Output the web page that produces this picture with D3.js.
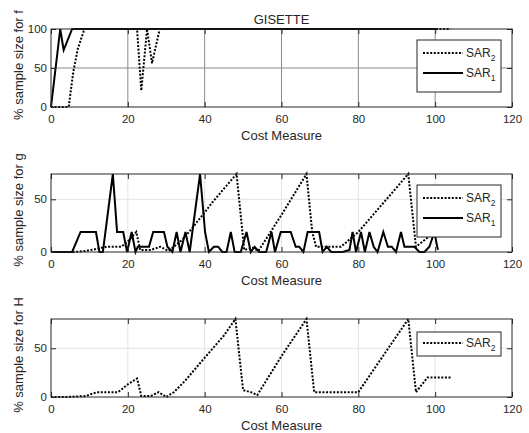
<!DOCTYPE html>
<html>
<head>
<meta charset="utf-8">
<script src="https://cdnjs.cloudflare.com/ajax/libs/d3/7.8.5/d3.min.js"></script>
<style>
body { margin: 0; background: #fff; }
text { font-family: "Liberation Sans", Arial, sans-serif; fill: #262626; }
</style>
</head>
<body>
<div id="chart"></div>
<script>
// x ticks shared by all three panels
var xTicks = [0, 20, 40, 60, 80, 100, 120];

// panel f
var fSar1 = [[0,0],[2.4,100],[3.3,73],[5.5,100],[100.7,100]];
var fSar2 = [[0,0],[4.6,0],[5.8,45],[7,75],[8.5,97],[9,100],[22.4,100],[23.5,21],
             [25,100],[26.3,56],[28.3,100],[104,100]];

// panel g
var gSar1 = [[0,0],[5.5,0],[7.7,19],[11.7,19],[12.6,0],[13.5,0],[16.1,74],[17.2,19],
             [18.8,19],[19.8,0],[21,19],[22,0],[22.6,5],[25.5,5],[26.6,19],[29.4,19],
             [30.3,5],[31.6,0],[32.7,19],[33.7,0],[35,19],[36.1,0],[38.8,74],[40.1,19],
             [41.1,0],[42.4,5],[43.5,5],[44.6,0],[45.7,0],[46.8,19],[47.8,0],[49.4,0],
             [50.9,19],[52,0],[53,5],[54.2,0],[56,0],[57.4,19],[58.3,0],[59.8,19],
             [62.4,19],[63.7,5],[64.6,5],[65.7,0],[66.8,19],[69.8,19],[70.7,0],[71.8,5],
             [72.9,0],[75.9,0],[77.7,2],[78.5,19],[79.4,0],[80.7,19],[81.7,0],[82.9,19],
             [84,5],[85,0],[86.5,19],[87.7,5],[88.7,5],[89.8,0],[91.1,19],[92,5],
             [94.6,5],[95.9,0],[97.2,0],[98.5,5],[99.8,19],[100.7,2]];
var gSar2 = [[0,0],[6,0],[9,1],[12,3],[14.5,5],[18.3,5],[20,10],[22.2,19],[23.2,2],
             [26,2],[28.5,5],[30.5,1],[32,5],[34,11],[36.6,22],[39,33],[42,47],[45,60],
             [48.3,74],[50.3,2],[52.5,4],[54,1],[60.3,37],[66.5,74],[68,19],[69,5],
             [75.5,5],[80,19],[93,74],[95,5],[98.5,15],[100,19],[104,19]];

// panel H
var hSar2 = [[0,0],[4,0],[9,1],[12,5],[17.5,5],[20,13],[22.4,19],[23.5,1],[26,1],
             [28,5],[30,0],[32,5],[35,17],[38,31],[40.6,43],[45,63],[48,80],[50,7],
             [52,5],[53.7,2],[60,42],[66.5,80],[68.5,5],[80,5],[93,80],[95,5],
             [98,20],[104,20]];

var W = 529, H = 433;
var svg = d3.select("#chart").append("svg")
    .attr("width", W)
    .attr("height", H);

var lineFn = function(x, y) {
  return d3.line().x(function(d) { return x(d[0]); }).y(function(d) { return y(d[1]); });
};

function drawPanel(p) {
  var x = d3.scaleLinear().domain([0, 120]).range([51, 512]);
  var y = d3.scaleLinear().domain([0, p.ymax]).range([p.bottom, p.top]);
  var g = svg.append("g");

  // grid
  g.selectAll(".gx").data(xTicks.slice(1, -1)).enter().append("line")
      .attr("x1", function(d) { return x(d); }).attr("x2", function(d) { return x(d); })
      .attr("y1", p.top).attr("y2", p.bottom)
      .attr("stroke", p.grid).attr("stroke-width", 1);
  g.selectAll(".gy").data(p.yTicks.filter(function(d) { return d > 0 && d < p.ymax; })).enter().append("line")
      .attr("x1", 51).attr("x2", 512)
      .attr("y1", function(d) { return y(d); }).attr("y2", function(d) { return y(d); })
      .attr("stroke", p.grid).attr("stroke-width", 1);

  // data lines
  p.series.forEach(function(s) {
    g.append("path")
        .attr("d", lineFn(x, y)(s.data))
        .attr("fill", "none")
        .attr("stroke", "#000")
        .attr("stroke-width", 2)
        .attr("stroke-dasharray", s.dotted ? "2,1.6" : null);
  });

  // axes, ticks inward on all four sides
  g.append("g").attr("transform", "translate(0," + p.bottom + ")")
      .call(d3.axisBottom(x).tickValues(xTicks).tickSizeInner(-5).tickSizeOuter(0).tickPadding(8));
  g.append("g").attr("transform", "translate(0," + p.top + ")")
      .call(d3.axisTop(x).tickValues(xTicks).tickSizeInner(-5).tickSizeOuter(0).tickFormat(""));
  g.append("g").attr("transform", "translate(51,0)")
      .call(d3.axisLeft(y).tickValues(p.yTicks).tickSizeInner(-5).tickSizeOuter(0).tickPadding(4));
  g.append("g").attr("transform", "translate(512,0)")
      .call(d3.axisRight(y).tickValues(p.yTicks).tickSizeInner(-5).tickSizeOuter(0).tickFormat(""));
  g.selectAll(".domain").remove();
  g.selectAll(".tick line").attr("stroke", "#262626");
  g.selectAll(".tick text").attr("font-size", 11.5).attr("fill", "#262626")
      .attr("font-family", "Liberation Sans, Arial, sans-serif");
  g.append("rect")
      .attr("x", 51).attr("y", p.top).attr("width", 461).attr("height", p.bottom - p.top)
      .attr("fill", "none").attr("stroke", "#262626").attr("stroke-width", 1);

  g.append("text")
      .attr("x", 281.5).attr("y", p.bottom + 33)
      .attr("text-anchor", "middle").attr("font-size", 13)
      .text("Cost Measure");
  g.append("text")
      .attr("transform", "translate(23," + ((p.top + p.bottom) / 2 - 3) + ") rotate(-90)")
      .attr("text-anchor", "middle").attr("font-size", 13)
      .text(p.ylabel);

  // legend
  var lg = g.append("g").attr("transform", "translate(417," + p.legTop + ")");
  lg.append("rect")
      .attr("width", 84).attr("height", 10 + 20 * p.series.length + (p.series.length > 1 ? 2 : -6))
      .attr("fill", "#fff").attr("stroke", "#262626").attr("stroke-width", 1);
  p.legend.forEach(function(s, i) {
    var ly = (p.series.length > 1 ? 13 : 11) + i * 20;
    lg.append("line")
        .attr("x1", 6).attr("x2", 46).attr("y1", ly).attr("y2", ly)
        .attr("stroke", "#000").attr("stroke-width", 2)
        .attr("stroke-dasharray", s.dotted ? "2,1.6" : null);
    var t = lg.append("text").attr("x", 49).attr("y", ly + 4).attr("font-size", 12);
    t.append("tspan").text("SAR");
    t.append("tspan").attr("dy", 4).attr("font-size", 8.5).text(s.sub);
  });
}

drawPanel({
  top: 29, bottom: 107, ymax: 100, yTicks: [0, 50, 100], grid: "#8a8a8a",
  ylabel: "% sample size for f", legTop: 40,
  series: [{data: fSar2, dotted: true}, {data: fSar1, dotted: false}],
  legend: [{sub: "2", dotted: true}, {sub: "1", dotted: false}]
});
drawPanel({
  top: 174, bottom: 252, ymax: 74, yTicks: [0, 50], grid: "#e3e3e3",
  ylabel: "% sample size for g", legTop: 185,
  series: [{data: gSar2, dotted: true}, {data: gSar1, dotted: false}],
  legend: [{sub: "2", dotted: true}, {sub: "1", dotted: false}]
});
drawPanel({
  top: 319, bottom: 397, ymax: 80, yTicks: [0, 50], grid: "#e3e3e3",
  ylabel: "% sample size for H", legTop: 332,
  series: [{data: hSar2, dotted: true}],
  legend: [{sub: "2", dotted: true}]
});

svg.append("text")
    .attr("x", 281.5).attr("y", 24)
    .attr("text-anchor", "middle").attr("font-size", 13)
    .text("GISETTE");
</script>
</body>
</html>
